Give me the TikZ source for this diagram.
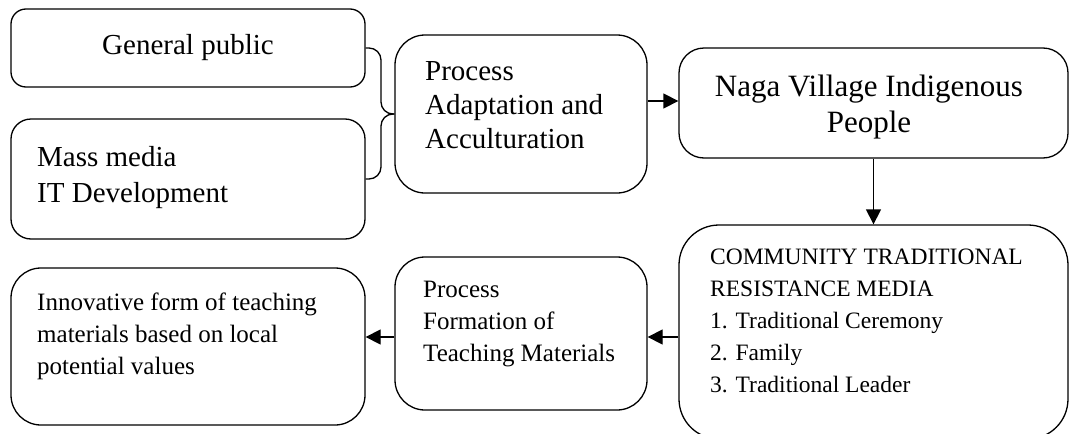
\documentclass[tikz,border=0pt]{standalone}
\usepackage{fontspec}
\setmainfont{Liberation Serif}
\usetikzlibrary{arrows.meta}
\begin{document}
\begin{tikzpicture}[x=1pt,y=-1pt,
  box/.style={draw,line width=1.3pt,rounded corners=#1,inner sep=0pt},
  box/.default=25pt,
  big/.style={inner sep=0pt,font=\fontsize{29}{36}\selectfont},
  mid/.style={inner sep=0pt,align=left,font=\fontsize{25}{32}\selectfont},
  small/.style={inner sep=0pt,align=left,font=\fontsize{23.5}{32}\selectfont},
  arr/.style={line width=1.3pt,-{Triangle[length=15pt,width=15pt]}},
  brace/.style={line width=1.3pt,rounded corners=12pt}]
\useasboundingbox (0,0) rectangle (1069,434);
% boxes
\node[box=15pt,minimum width=354pt,minimum height=78pt] (gp) at (188,48) {};
\node[box=20pt,minimum width=354pt,minimum height=120pt] (mm) at (188,179) {};
\node[box=30pt,minimum width=252pt,minimum height=158pt] (pa) at (521,114) {};
\node[box=25pt,minimum width=389pt,minimum height=110pt] (naga) at (873.5,103) {};
\node[box=40pt,minimum width=389pt,minimum height=214pt] (comm) at (873.5,332) {};
\node[box=30pt,minimum width=252pt,minimum height=153pt] (pf) at (521,333.5) {};
\node[box=30pt,minimum width=354pt,minimum height=157pt] (inn) at (188,346.5) {};
% texts
\node[big] (tgp) at (gp) {General public};
\node[big,align=left,anchor=west] (tmm) at (37,178) {Mass media\\IT Development};
\node[big,align=left,anchor=west,font=\fontsize{29}{34}\selectfont] (tpa) at (425,105) {Process\\Adaptation and\\Acculturation};
\node[big,align=center,font=\fontsize{31}{36}\selectfont] (tnaga) at (869,107) {Naga Village Indigenous\\People};
\node[small,anchor=west] (tcomm) at (710,321) {COMMUNITY TRADITIONAL\\RESISTANCE MEDIA\\1. Traditional Ceremony\\2. Family\\3. Traditional Leader};
\node[mid,anchor=west] (tpf) at (423,324) {Process\\Formation of\\Teaching Materials};
\node[mid,anchor=west] (tinn) at (37,336) {Innovative form of teaching\\materials based on local\\potential values};
% brace
\coordinate (bx) at (381,0);
\draw[brace] (gp.east) -- (gp.east -| bx) -- (pa.west -| bx) -- (pa.west);
\draw[brace] (mm.east) -- (mm.east -| bx) -- (pa.west -| bx) -- (pa.west);
% arrows
\coordinate (ty) at (0,101);
\coordinate (ly) at (0,337);
\draw[arr] (pa.east |- ty) -- (naga.west |- ty);
\draw[arr] (naga.south) -- (comm.north);
\draw[arr] (comm.west |- ly) -- (pf.east |- ly);
\draw[arr] (pf.west |- ly) -- (inn.east |- ly);
\end{tikzpicture}
\end{document}
